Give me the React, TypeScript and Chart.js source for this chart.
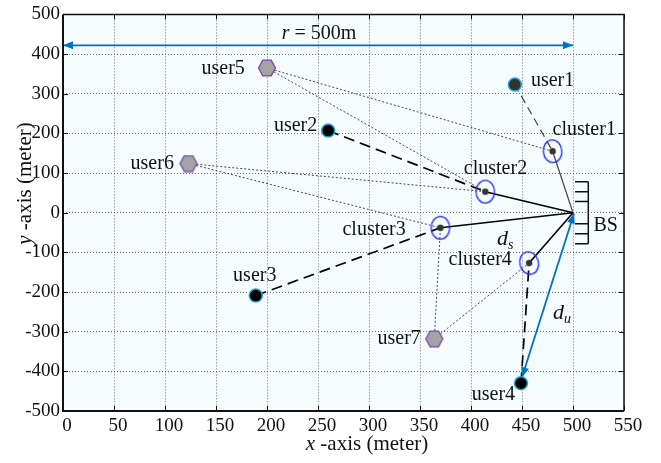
import React, { useEffect, useRef } from "react";
import { Chart, registerables } from "chart.js";

Chart.register(...registerables);

// ---------- data ----------
const X_TICKS = [0, 50, 100, 150, 200, 250, 300, 350, 400, 450, 500, 550];
const Y_TICKS = [-500, -400, -300, -200, -100, 0, 100, 200, 300, 400, 500];

const CIRCLE_USER_NAMES = ["user1", "user2", "user3", "user4"];
const CIRCLE_USER_X = [443, 260, 189, 449];
const CIRCLE_USER_Y = [323, 207, -209, -430];

const HEX_USER_NAMES = ["user5", "user6", "user7"];
const HEX_USER_X = [200, 123, 364];
const HEX_USER_Y = [365, 124, -318];

const CLUSTER_NAMES = ["cluster1", "cluster2", "cluster3", "cluster4"];
const CLUSTER_X = [480, 414, 370, 457];
const CLUSTER_Y = [155, 53, -38, -127];
const CLUSTER_TILT = [-6, 0, 0, -15];

const BS_X = [500];
const BS_Y = [0];

// circle user i -> cluster i (dashed)
const DIRECT_LINK_USER = [0, 1, 2, 3];
const DIRECT_LINK_CLUSTER = [0, 1, 2, 3];
// hex user -> cluster (dotted)
const COOP_LINK_USER = [0, 0, 1, 1, 2, 2];
const COOP_LINK_CLUSTER = [0, 1, 1, 2, 2, 3];

// name labels (text centre, data coords)
const LABEL_TEXT = [...CIRCLE_USER_NAMES, ...HEX_USER_NAMES, ...CLUSTER_NAMES, "BS"];
const LABEL_X = [480, 228, 188, 422, 157, 87.5, 329.6, 511, 424, 305, 409, 532];
const LABEL_Y = [332, 218, -159.5, -459, 362, 123, -319, 209, 111, -44, -118.5, -32];

const R_ARROW_X = [0, 500];
const R_ARROW_Y = [422, 422];
const R_LABEL_X = [251];
const R_LABEL_Y = [450];

const DU_ARROW_X = [450, 501];
const DU_ARROW_Y = [-415, -2];
const DU_LABEL_X = [489.3];
const DU_LABEL_Y = [-254];

const DS_LABEL_X = [433.5];
const DS_LABEL_Y = [-66];

const BS_ANTENNA_X = [502, 515];
const BS_ANTENNA_TICKS_Y = [78, 53, 28, -28, -53, -78];

// ---------- styles ----------
const SERIF = '"Liberation Serif", "Times New Roman", serif';
const BLUE = "#0072BD";
const BG = "#f5fcfe";
const GRID = "rgba(40,40,40,0.65)";

function makeHexagon(): HTMLCanvasElement {
  const c = document.createElement("canvas");
  c.width = 20;
  c.height = 18;
  const g = c.getContext("2d")!;
  const cx = 10, cy = 9, rx = 8.5, ry = 9;
  g.beginPath();
  for (let k = 0; k < 6; k++) {
    const a = (Math.PI / 3) * k;
    const px = cx + rx * Math.cos(a);
    const py = cy + ry * Math.sin(a);
    if (k === 0) g.moveTo(px, py);
    else g.lineTo(px, py);
  }
  g.closePath();
  g.fillStyle = "#a3a3a3";
  g.fill();
  g.strokeStyle = "#7a3fa8";
  g.lineWidth = 1.2;
  g.stroke();
  return c;
}

function makeCluster(): HTMLCanvasElement {
  const c = document.createElement("canvas");
  c.width = 24;
  c.height = 28;
  const g = c.getContext("2d")!;
  g.beginPath();
  g.ellipse(12, 14, 9.3, 11.3, 0, 0, Math.PI * 2);
  g.strokeStyle = "#2a2af0";
  g.lineWidth = 1.3;
  g.stroke();
  g.beginPath();
  g.arc(12, 14, 3.2, 0, Math.PI * 2);
  g.fillStyle = "#333333";
  g.fill();
  return c;
}

type Run = { text: string; font: string; dy?: number };
function drawRuns(ctx: CanvasRenderingContext2D, runs: Run[], cx: number, cy: number) {
  let total = 0;
  const widths = runs.map((r) => {
    ctx.font = r.font;
    const w = ctx.measureText(r.text).width;
    total += w;
    return w;
  });
  let x = cx - total / 2;
  ctx.textAlign = "left";
  ctx.textBaseline = "middle";
  runs.forEach((r, i) => {
    ctx.font = r.font;
    ctx.fillText(r.text, x, cy + (r.dy || 0));
    x += widths[i];
  });
}

function arrowHead(ctx: CanvasRenderingContext2D, fx: number, fy: number, tx: number, ty: number) {
  const len = 10, hw = 4;
  const ang = Math.atan2(ty - fy, tx - fx);
  ctx.beginPath();
  ctx.moveTo(tx, ty);
  ctx.lineTo(tx - len * Math.cos(ang) + hw * Math.sin(ang), ty - len * Math.sin(ang) - hw * Math.cos(ang));
  ctx.lineTo(tx - len * Math.cos(ang) - hw * Math.sin(ang), ty - len * Math.sin(ang) + hw * Math.cos(ang));
  ctx.closePath();
  ctx.fill();
}

const overlayPlugin = {
  id: "overlay",
  beforeDraw(chart: any) {
    const { ctx, chartArea: a } = chart;
    ctx.save();
    ctx.fillStyle = "#ffffff";
    ctx.fillRect(0, 0, chart.width, chart.height);
    ctx.fillStyle = BG;
    ctx.fillRect(a.left, a.top, a.right - a.left, a.bottom - a.top);
    ctx.restore();
  },
  afterDatasetsDraw(chart: any) {
    const { ctx } = chart;
    const xs = chart.scales.x;
    const ys = chart.scales.y;
    const px = (v: number) => xs.getPixelForValue(v);
    const py = (v: number) => ys.getPixelForValue(v);
    ctx.save();
    // arrow heads
    ctx.fillStyle = BLUE;
    arrowHead(ctx, px(R_ARROW_X[1]), py(R_ARROW_Y[1]), px(R_ARROW_X[0]), py(R_ARROW_Y[0]));
    arrowHead(ctx, px(R_ARROW_X[0]), py(R_ARROW_Y[0]), px(R_ARROW_X[1]), py(R_ARROW_Y[1]));
    arrowHead(ctx, px(DU_ARROW_X[1]), py(DU_ARROW_Y[1]), px(DU_ARROW_X[0]), py(DU_ARROW_Y[0]));
    arrowHead(ctx, px(DU_ARROW_X[0]), py(DU_ARROW_Y[0]), px(DU_ARROW_X[1]), py(DU_ARROW_Y[1]));

    // BS antenna
    ctx.strokeStyle = "#111";
    ctx.lineWidth = 1.5;
    ctx.beginPath();
    const vx = px(BS_ANTENNA_X[1]);
    ctx.moveTo(vx, py(BS_ANTENNA_TICKS_Y[0]));
    ctx.lineTo(vx, py(BS_ANTENNA_TICKS_Y[BS_ANTENNA_TICKS_Y.length - 1]));
    BS_ANTENNA_TICKS_Y.forEach((t) => {
      ctx.moveTo(px(BS_ANTENNA_X[0]), py(t));
      ctx.lineTo(vx, py(t));
    });
    ctx.stroke();

    // labels
    ctx.fillStyle = "#111";
    const f = `20px ${SERIF}`;
    LABEL_TEXT.forEach((t, i) => {
      drawRuns(ctx, [{ text: t, font: f }], px(LABEL_X[i]), py(LABEL_Y[i]));
    });
    drawRuns(
      ctx,
      [
        { text: "r", font: `italic 20px ${SERIF}` },
        { text: " = 500m", font: f },
      ],
      px(R_LABEL_X[0]),
      py(R_LABEL_Y[0])
    );
    drawRuns(
      ctx,
      [
        { text: "d", font: `italic 22px ${SERIF}` },
        { text: "s", font: `italic 14px ${SERIF}`, dy: 6 },
      ],
      px(DS_LABEL_X[0]),
      py(DS_LABEL_Y[0])
    );
    drawRuns(
      ctx,
      [
        { text: "d", font: `italic 22px ${SERIF}` },
        { text: "u", font: `italic 14px ${SERIF}`, dy: 6 },
      ],
      px(DU_LABEL_X[0]),
      py(DU_LABEL_Y[0])
    );
    ctx.restore();
  },
  afterDraw(chart: any) {
    const { ctx, chartArea: a } = chart;
    const xs = chart.scales.x;
    const ys = chart.scales.y;
    ctx.save();
    ctx.strokeStyle = "#111";
    // inward ticks
    ctx.lineWidth = 1;
    ctx.beginPath();
    X_TICKS.forEach((v) => {
      const x = Math.round(xs.getPixelForValue(v)) + 0.5;
      ctx.moveTo(x, a.bottom);
      ctx.lineTo(x, a.bottom - 5);
      ctx.moveTo(x, a.top);
      ctx.lineTo(x, a.top + 5);
    });
    Y_TICKS.forEach((v) => {
      const y = Math.round(ys.getPixelForValue(v)) + 0.5;
      ctx.moveTo(a.left, y);
      ctx.lineTo(a.left + 5, y);
      ctx.moveTo(a.right, y);
      ctx.lineTo(a.right - 5, y);
    });
    ctx.stroke();
    // frame
    ctx.lineWidth = 1.5;
    ctx.beginPath();
    ctx.moveTo(a.left, a.top);
    ctx.lineTo(a.right, a.top);
    ctx.lineTo(a.right, a.bottom);
    ctx.stroke();
    ctx.lineWidth = 2;
    ctx.beginPath();
    ctx.moveTo(a.right, a.bottom);
    ctx.lineTo(a.left, a.bottom);
    ctx.lineTo(a.left, a.top);
    ctx.stroke();

    // axis titles
    ctx.fillStyle = "#111";
    drawRuns(
      ctx,
      [
        { text: "x", font: `italic 21px ${SERIF}` },
        { text: " -axis (meter)", font: `21px ${SERIF}` },
      ],
      367,
      444.5
    );
    ctx.translate(25.5, 183.5);
    ctx.rotate(-Math.PI / 2);
    drawRuns(
      ctx,
      [
        { text: "y", font: `italic 21px ${SERIF}` },
        { text: " -axis (meter)", font: `21px ${SERIF}` },
      ],
      0,
      0
    );
    ctx.restore();
  },
};

function seg(x1: number, y1: number, x2: number, y2: number, color: string, width: number, dash: number[]) {
  return {
    type: "scatter" as const,
    data: [
      { x: x1, y: y1 },
      { x: x2, y: y2 },
    ],
    showLine: true,
    borderColor: color,
    borderWidth: width,
    borderDash: dash,
    pointRadius: 0,
    fill: false,
    order: 2,
  };
}

export default function App() {
  const ref = useRef<HTMLCanvasElement>(null);

  useEffect(() => {
    const canvas = ref.current!;
    const hex = makeHexagon();
    const clus = makeCluster();

    const datasets: any[] = [];

    // cooperative (dotted) links
    COOP_LINK_USER.forEach((u, i) => {
      const c = COOP_LINK_CLUSTER[i];
      datasets.push(seg(HEX_USER_X[u], HEX_USER_Y[u], CLUSTER_X[c], CLUSTER_Y[c], "#4a4a4a", 1, [2, 2]));
    });
    // direct (dashed) links
    DIRECT_LINK_USER.forEach((u, i) => {
      const c = DIRECT_LINK_CLUSTER[i];
      if (i === 0) datasets.push(seg(CIRCLE_USER_X[u], CIRCLE_USER_Y[u], CLUSTER_X[c], CLUSTER_Y[c], "#444", 1.2, [8, 5]));
      else datasets.push(seg(CIRCLE_USER_X[u], CIRCLE_USER_Y[u], CLUSTER_X[c], CLUSTER_Y[c], "#000", 1.7, [11, 6]));
    });
    // backhaul cluster -> BS
    CLUSTER_X.forEach((cx, i) => {
      if (i === 0) datasets.push(seg(cx, CLUSTER_Y[i], BS_X[0], BS_Y[0], "#444", 1.2, []));
      else datasets.push(seg(cx, CLUSTER_Y[i], BS_X[0], BS_Y[0], "#000", 1.6, []));
    });
    // blue arrows
    datasets.push(seg(R_ARROW_X[0], R_ARROW_Y[0], R_ARROW_X[1], R_ARROW_Y[1], BLUE, 1.8, []));
    datasets.push(seg(DU_ARROW_X[0], DU_ARROW_Y[0], DU_ARROW_X[1], DU_ARROW_Y[1], BLUE, 1.8, []));

    // markers
    datasets.push({
      type: "scatter",
      data: CLUSTER_X.map((x, i) => ({ x, y: CLUSTER_Y[i] })),
      pointStyle: clus,
      pointRadius: 10,
      rotation: CLUSTER_TILT,
      order: 0,
    });
    datasets.push({
      type: "scatter",
      data: HEX_USER_X.map((x, i) => ({ x, y: HEX_USER_Y[i] })),
      pointStyle: hex,
      pointRadius: 9,
      order: 0,
    });
    datasets.push({
      type: "scatter",
      data: CIRCLE_USER_X.map((x, i) => ({ x, y: CIRCLE_USER_Y[i] })),
      pointStyle: "circle",
      pointRadius: 6.5,
      backgroundColor: CIRCLE_USER_X.map((_, i) => (i === 0 ? "#333333" : "#000000")),
      borderColor: "#25a4de",
      borderWidth: 1.5,
      order: 0,
    });

    const tickFont = { family: SERIF, size: 19 };

    const chart = new Chart(canvas, {
      type: "scatter",
      data: { datasets },
      plugins: [overlayPlugin],
      options: {
        responsive: false,
        devicePixelRatio: 1,
        animation: false,
        events: [],
        layout: { padding: { top: 6, right: 37, left: 0, bottom: 0 } },
        plugins: { legend: { display: false }, tooltip: { enabled: false } },
        scales: {
          x: {
            type: "linear",
            min: 0,
            max: 550,
            afterBuildTicks: (s: any) => {
              s.ticks = X_TICKS.map((v) => ({ value: v }));
            },
            afterFit: (s: any) => {
              s.height = 52;
            },
            grid: { color: GRID, lineWidth: 1, drawTicks: false },
            border: { display: false, dash: [1, 2] },
            ticks: {
              font: tickFont,
              color: "#111",
              padding: 4,
              labelOffset: 4,
              maxRotation: 0,
              autoSkip: false,
            },
          },
          y: {
            type: "linear",
            min: -500,
            max: 500,
            afterBuildTicks: (s: any) => {
              s.ticks = Y_TICKS.map((v) => ({ value: v }));
            },
            afterFit: (s: any) => {
              s.width = 63;
            },
            grid: { color: GRID, lineWidth: 1, drawTicks: false },
            border: { display: false, dash: [1, 2] },
            ticks: {
              font: tickFont,
              color: "#111",
              padding: 3,
              autoSkip: false,
            },
          },
        },
      } as any,
    } as any);

    return () => chart.destroy();
  }, []);

  return (
    <div style={{ position: "absolute", left: 0, top: 0, width: 661, height: 463 }}>
      <canvas ref={ref} width={661} height={463} style={{ display: "block", width: 661, height: 463 }} />
    </div>
  );
}
